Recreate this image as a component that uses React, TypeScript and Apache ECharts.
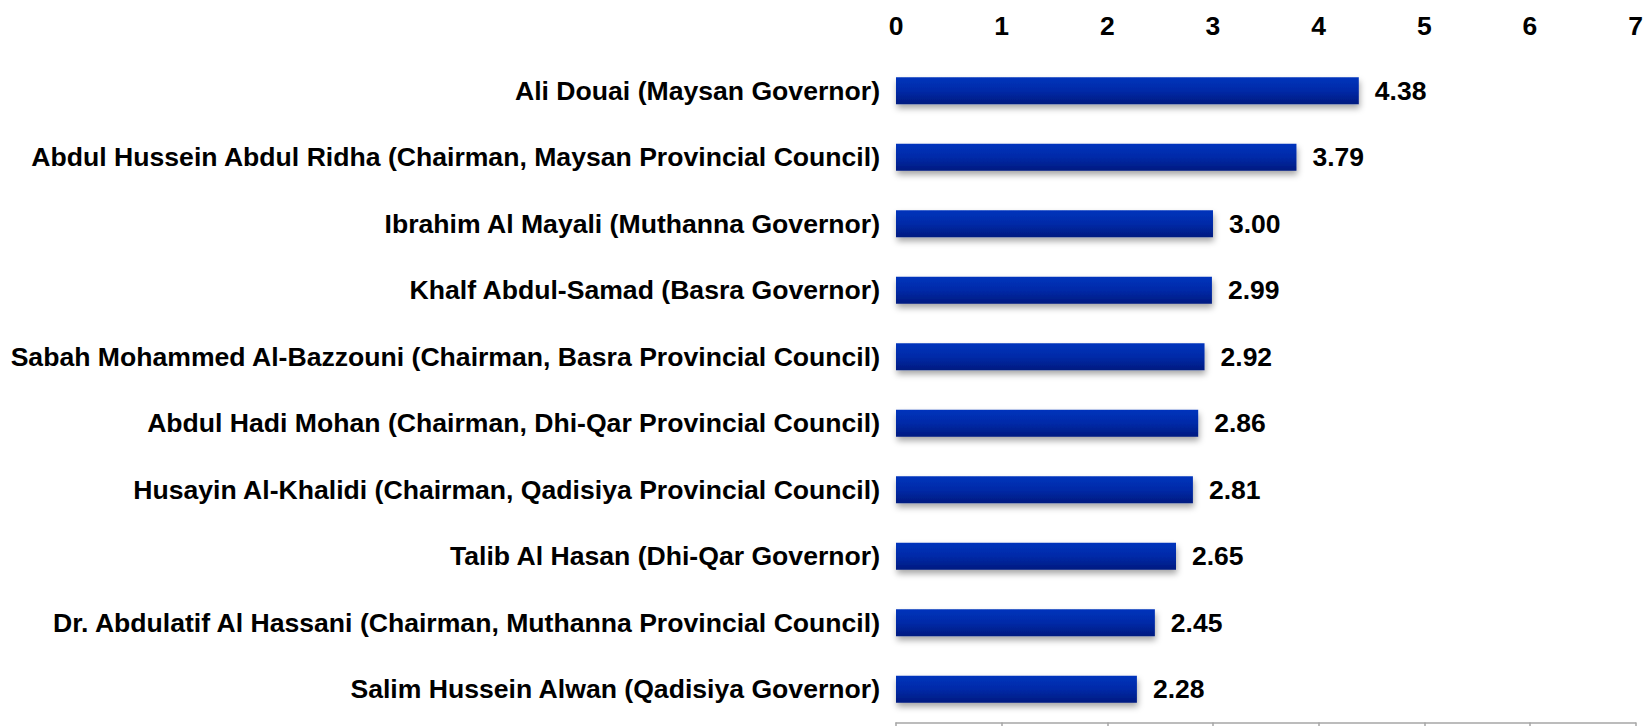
import React, { useEffect, useRef } from "react";
import * as echarts from "echarts";

const categories = [
  "Ali Douai (Maysan Governor)",
  "Abdul Hussein Abdul Ridha (Chairman, Maysan Provincial Council)",
  "Ibrahim Al Mayali (Muthanna Governor)",
  "Khalf Abdul-Samad (Basra Governor)",
  "Sabah Mohammed Al-Bazzouni (Chairman, Basra Provincial Council)",
  "Abdul Hadi Mohan (Chairman, Dhi-Qar Provincial Council)",
  "Husayin Al-Khalidi (Chairman, Qadisiya Provincial Council)",
  "Talib Al Hasan (Dhi-Qar Governor)",
  "Dr. Abdulatif Al Hassani (Chairman, Muthanna Provincial Council)",
  "Salim Hussein Alwan (Qadisiya Governor)",
];

const values = [4.38, 3.79, 3.0, 2.99, 2.92, 2.86, 2.81, 2.65, 2.45, 2.28];

const axisMin = 0;
const axisMax = 7;
const axisInterval = 1;

const FONT = "'Liberation Sans', Arial, Helvetica, sans-serif";

export default function App() {
  const ref = useRef<HTMLDivElement>(null);

  useEffect(() => {
    if (!ref.current) return;
    const chart = echarts.init(ref.current, null, { renderer: "svg" });
    chart.setOption({
      animation: false,
      backgroundColor: "#ffffff",
      grid: { left: 896, right: 8, top: 57.4, bottom: 3.6, containLabel: false },
      xAxis: [
        {
          type: "value",
          position: "top",
          min: axisMin,
          max: axisMax,
          interval: axisInterval,
          axisLine: { show: false },
          axisTick: { show: false },
          splitLine: { show: false },
          axisLabel: {
            show: true,
            margin: 18,
            color: "#000",
            fontSize: 26.5,
            fontWeight: "bold",
            fontFamily: FONT,
          },
        },
        {
          type: "value",
          position: "bottom",
          min: axisMin,
          max: axisMax,
          interval: axisInterval,
          axisLine: { show: true, lineStyle: { color: "#a6a6a6", width: 1.5 } },
          axisTick: { show: true, length: 6, lineStyle: { color: "#a6a6a6", width: 1.5 } },
          splitLine: { show: false },
          axisLabel: { show: false },
        },
      ],
      yAxis: {
        type: "category",
        data: categories,
        inverse: true,
        axisLine: { show: false },
        axisTick: { show: false },
        splitLine: { show: false },
        axisLabel: {
          margin: 16,
          color: "#000",
          fontSize: 26.6,
          fontWeight: "bold",
          fontFamily: FONT,
        },
      },
      series: [
        {
          type: "bar",
          xAxisIndex: 0,
          data: values,
          barWidth: 27,
          itemStyle: {
            color: new echarts.graphic.LinearGradient(0, 0, 0, 1, [
              { offset: 0, color: "#0034bc" },
              { offset: 0.5, color: "#002aa8" },
              { offset: 1, color: "#001a80" },
            ]),
            shadowColor: "rgba(0,0,0,0.35)",
            shadowBlur: 6,
            shadowOffsetX: 1,
            shadowOffsetY: 4,
          },
          label: {
            show: true,
            position: "right",
            distance: 16,
            color: "#000",
            fontSize: 26.5,
            fontWeight: "bold",
            fontFamily: FONT,
            formatter: (p: any) => Number(p.value).toFixed(2),
          },
        },
      ],
    });
    return () => chart.dispose();
  }, []);

  return (
    <div
      ref={ref}
      style={{ position: "fixed", left: 0, top: 0, width: 1646, height: 726 }}
    />
  );
}
